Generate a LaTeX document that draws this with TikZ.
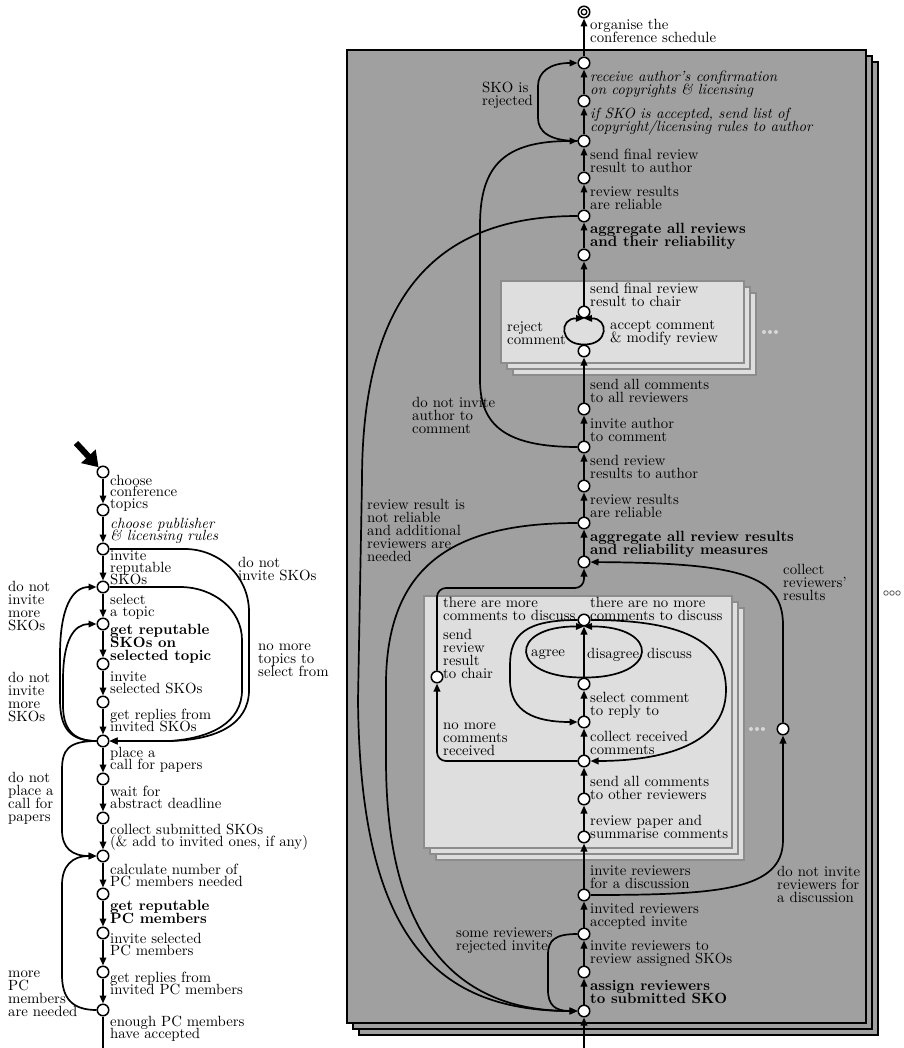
\documentclass[tikz,border=0pt]{standalone}
\usepackage{fontspec}
\setmainfont{lmroman10-regular}[Extension=.otf,BoldFont=lmroman10-bold,ItalicFont=lmroman10-italic,BoldItalicFont=lmroman10-bolditalic]
\usetikzlibrary{arrows.meta}
\definecolor{boxgray}{RGB}{160,160,160}
\definecolor{lightfill}{RGB}{222,222,222}
\definecolor{lightborder}{RGB}{140,140,140}
\definecolor{dotgray}{RGB}{215,215,215}
\definecolor{dotdark}{RGB}{90,90,90}
\newcommand{\rfont}{\fontsize{14.8}{13}\selectfont\lineskiplimit=-100pt\relax}
\newcommand{\lfont}{\fontsize{14.8}{11.8}\selectfont\lineskiplimit=-100pt\relax}
\begin{document}
\begin{tikzpicture}[x=1pt,y=-1pt,
  state/.style={circle,draw,fill=white,line width=1.5pt,minimum size=11.5pt,inner sep=0pt},
  edge/.style={line width=1.7pt,-{Triangle[length=8pt,width=6.5pt]}},
  plain/.style={line width=1.7pt},
  lbl/.style={anchor=north west,inner sep=0pt,align=left,yshift=11pt,font=\rfont,execute at begin node={\rule{0pt}{11pt}}},
  rl/.style={lbl,yshift=-2pt},
  lbt/.style={lbl,font=\lfont},
  lbtb/.style={lbl,font=\rfont\bfseries},
  lbti/.style={lbl,font=\lfont\itshape},
  rlb/.style={rl,font=\rfont\bfseries},
  rli/.style={rl,font=\rfont\itshape},
  bigbox/.style={draw=black,fill=boxgray,line width=1.3pt},
  litbox/.style={draw=lightborder,fill=lightfill,line width=1.8pt},
  lightdot/.style={circle,fill=dotgray,inner sep=0pt,minimum size=4pt},
  darkdot/.style={circle,draw=dotdark,fill=white,line width=0.8pt,inner sep=0pt,minimum size=4.5pt},
]
\useasboundingbox (0,0) rectangle (903,1048);

% ---------- boxes ----------
\draw[bigbox] (359,62) rectangle (878,1035);
\draw[bigbox] (353,56) rectangle (872,1029);
\draw[bigbox] (347,50) rectangle (866,1023);

\draw[litbox] (513,293) rectangle (756,375);
\draw[litbox] (507,287) rectangle (750,369);
\draw[litbox] (501,281) rectangle (744,363);

\draw[litbox] (436,608) rectangle (744,860);
\draw[litbox] (430,602) rectangle (738,854);
\draw[litbox] (424,596) rectangle (732,848);

% dots
\node[lightdot] (d1) at (764,332) {};
\node[lightdot] (d2) at (770,332) {};
\node[lightdot] (d3) at (776,332) {};
\node[lightdot] (d4) at (751,729) {};
\node[lightdot] (d5) at (757,729) {};
\node[lightdot] (d6) at (763,729) {};
\node[darkdot] (d7) at (886,593) {};
\node[darkdot] (d8) at (892,593) {};
\node[darkdot] (d9) at (898,593) {};

% ---------- left column nodes ----------
\foreach \n/\y in {n1/472,n2/510,n3/549,n4/587,n5/624,n6/664,n7/702,n8/741,n9/779,n10/818,n11/856,n12/894,n13/933,n14/972,n15/1010}
  \node[state] (\n) at (103,\y) {};
\coordinate (st) at (76,443);
\coordinate (lb) at (103,1048);

% ---------- right column nodes ----------
\node[state] (fin) at (584,12) {};
\draw[line width=1.3pt] (fin.center) circle (2.8);
\foreach \n/\y in {r1/63,r2/101,r3/141,r4/178,r5/216,r6/255,r7/312,r8/351,r9/409,r10/447,r11/486,r12/523,r13/562,r14/620,r15/684,r16/722,r17/761,r18/799,r19/837,r20/895,r21/934,r22/972,r23/1011}
  \node[state] (\n) at (584,\y) {};
\node[state] (s1) at (437,677) {};
\node[state] (q) at (783,729) {};
\coordinate (rb) at (584,1048);

% ---------- left column edges ----------
\draw[line width=6pt,-{Triangle[length=15pt,width=19pt]}] (st) -- (n1);
\foreach \a/\b in {n1/n2,n2/n3,n3/n4,n4/n5,n5/n6,n6/n7,n7/n8,n8/n9,n9/n10,n10/n11,n11/n12,n12/n13,n13/n14,n14/n15}
  \draw[edge] (\a) -- (\b);
\draw[plain] (n15) -- (lb);
% do not invite SKOs
\draw[edge] (n3) -- (185,549) .. controls (218,549) and (249,575) .. (249,612) -- (249,690) .. controls (249,725) and (215,740) .. (170,741) -- (n8);
% no more topics to select from
\draw[edge] (n4) -- (180,587) .. controls (214,587) and (242,610) .. (242,640) -- (242,690) .. controls (242,722) and (212,738) .. (170,741) -- (n8);
% do not invite more SKOs (to n4)
\draw[edge] (n8) .. controls (70,741) and (60,728) .. (60,700) -- (60,655) .. controls (60,608) and (72,587) .. (n4);
% do not invite more SKOs (to n5)
\draw[edge] (n8) .. controls (72,741) and (63,728) .. (63,705) -- (63,680) .. controls (63,640) and (74,624) .. (n5);
% do not place a call for papers
\draw[edge] (n8) .. controls (68,741) and (62,750) .. (62,770) -- (62,830) .. controls (62,848) and (72,856) .. (n11);
% more PC members are needed
\draw[edge] (n15) .. controls (72,1010) and (62,998) .. (62,975) -- (62,885) .. controls (62,866) and (72,856) .. (n11);

% ---------- right column edges ----------
\foreach \a/\b in {r23/r22,r22/r21,r21/r20,r20/r19,r19/r18,r18/r17,r17/r16,r16/r15,r15/r14,r13/r12,r12/r11,r11/r10,r10/r9,r9/r8,r7/r6,r6/r5,r5/r4,r4/r3,r3/r2,r2/r1,r1/fin}
  \draw[edge] (\a) -- (\b);
\draw[edge] (rb) -- (r23);
% SKO is rejected
\draw[edge] (r3) .. controls (550,141) and (538,132) .. (538,118) -- (538,86) .. controls (538,72) and (550,63) .. (r1);
% do not invite author to comment
\draw[edge] (r10) .. controls (505,447) and (480,425) .. (480,380) -- (480,225) .. controls (480,165) and (505,141) .. (r3);
% from r5 to r23
\draw[edge] (r5) .. controls (450,216) and (362,280) .. (362,480) -- (358,700) .. controls (360,930) and (430,1011) .. (r23);
% review result is not reliable
\draw[edge] (r12) .. controls (460,523) and (388,560) .. (386,680) -- (386,760) .. controls (386,930) and (450,1011) .. (r23);
% reject / accept comment
\draw[edge] (r8.north) .. controls (559,345) and (559,318) .. (r7.south);
\draw[edge] (r8.north) .. controls (609,345) and (609,318) .. (r7.south);
% send review result to chair
\draw[edge,rounded corners=9pt] (s1) -- (437,588) -- (584,588) -- (r13);
% no more comments received
\draw[edge,rounded corners=9pt] (r17) -- (437,761) -- (s1);
% agree / discuss lobes
\draw[edge] (r15.north) .. controls (508,678) and (508,626) .. (r14.south);
\draw[edge] (r15.north) .. controls (660,678) and (660,626) .. (r14.south);
% there are more comments to discuss
\draw[edge] (r14) .. controls (525,620) and (510,635) .. (510,665) -- (510,680) .. controls (510,712) and (535,722) .. (r16);
% there are no more comments to discuss
\draw[edge] (r14) .. controls (680,620) and (726,640) .. (726,690) .. controls (726,750) and (650,761) .. (r17);
% do not invite reviewers for a discussion
\draw[edge] (r20) .. controls (720,895) and (783,890) .. (783,840) -- (q);
% collect reviewers' results
\draw[edge] (q) -- (783,625) .. controls (783,575) and (740,563) .. (r13);
% some reviewers rejected invite
\draw[edge] (r21) .. controls (555,934) and (548,940) .. (548,955) -- (548,990) .. controls (548,1005) and (555,1011) .. (r23);

% ---------- left column labels ----------
\node[lbt] (t1) at (110,485.7) {choose\\conference\\topics};
\node[lbti] (t2) at (110,529) {choose publisher\\\& licensing rules};
\node[lbt] (t3) at (110,561.7) {invite\\reputable\\SKOs};
\node[lbt] (t4) at (110,605) {select\\a topic};
\node[lbtb] (t5) at (110,635) {get reputable\\SKOs on\\selected topic};
\node[lbt] (t6) at (110,683) {invite\\selected SKOs};
\node[lbt] (t7) at (110,720) {get replies from\\invited SKOs};
\node[lbt] (t8) at (110,758) {place a\\call for papers};
\node[lbt] (t9) at (110,797) {wait for\\abstract deadline};
\node[lbt] (t10) at (110,835) {collect submitted SKOs\\(\& add to invited ones, if any)};
\node[lbt] (t11) at (110,875) {calculate number of\\PC members needed};
\node[lbtb] (t12) at (110,911.5) {get reputable\\PC members};
\node[lbt] (t13) at (110,944) {invite selected\\PC members};
\node[lbt] (t14) at (110,982.7) {get replies from\\invited PC members};
\node[lbt] (t15) at (110,1026.7) {enough PC members\\have accepted};
\node[lbl] (t16) at (238,568.3) {do not\\invite SKOs};
\node[lbl] (t17) at (258,655) {no more\\topics to\\select from};
\node[lbl] (t18) at (8,591.7) {do not\\invite\\more\\SKOs};
\node[lbl] (t19) at (8,682.7) {do not\\invite\\more\\SKOs};
\node[lbl] (t20) at (8,783.3) {do not\\place a\\call for\\papers};
\node[lbl] (t21) at (8,981.7) {more\\PC\\members\\are needed};

% ---------- right column labels ----------
\node[rl] (u1) at (590,28.3) {organise the\\conference schedule};
\node[rli] (u2) at (590,80) {receive author's confirmation\\on copyrights \& licensing};
\node[rli] (u3) at (590,116.7) {if SKO is accepted, send list of\\copyright/licensing rules to author};
\node[rl] (u4) at (590,157.7) {send final review\\result to author};
\node[rl] (u5) at (590,195) {review results\\are reliable};
\node[rlb] (u6) at (590,231.7) {aggregate all reviews\\and their reliability};
\node[rl] (u7) at (590,291.7) {send final review\\result to chair};
\node[rl] (u8) at (507,331) {reject\\comment};
\node[rl] (u9) at (610,329) {accept comment\\\& modify review};
\node[rl] (u10) at (590,387.7) {send all comments\\to all reviewers};
\node[lbl] (u11) at (412,407.7) {do not invite\\author to\\comment};
\node[rl] (u12) at (590,426.7) {invite author\\to comment};
\node[rl] (u13) at (590,464.3) {send review\\results to author};
\node[rl] (u14) at (590,503.3) {review results\\are reliable};
\node[rl] (u15) at (367,508.3) {review result is\\not reliable\\and additional\\reviewers are\\needed};
\node[rlb] (u16) at (590,540) {aggregate all review results\\and reliability measures};
\node[rl] (u17) at (783,573.3) {collect\\reviewers'\\results};
\node[rl] (u18) at (443,606) {there are more\\comments to discuss};
\node[rl] (u19) at (590,606) {there are no more\\comments to discuss};
\node[rl] (u20) at (443,638.3) {send\\review\\result\\to chair};
\node[rl] (u21) at (531,654) {agree};
\node[rl] (u22) at (587,656.7) {disagree};
\node[rl] (u23) at (647,656.7) {discuss};
\node[rl] (u24) at (590,700.7) {select comment\\to reply to};
\node[rl] (u25) at (443,731.7) {no more\\comments\\received};
\node[rl] (u26) at (590,740) {collect received\\comments};
\node[rl] (u27) at (590,785) {send all comments\\to other reviewers};
\node[rl] (u28) at (590,824) {review paper and\\summarise comments};
\node[rl] (u29) at (590,875) {invite reviewers\\for a discussion};
\node[rl] (u30) at (777,875) {do not invite\\reviewers for\\a discussion};
\node[rl] (u31) at (590,911.7) {invited reviewers\\accepted invite};
\node[rl] (u32) at (456,936.7) {some reviewers\\rejected invite};
\node[rl] (u33) at (590,950) {invite reviewers to\\review assigned SKOs};
\node[rlb] (u34) at (590,989) {assign reviewers\\to submitted SKO};
\node[lbl] (u35) at (482,93.3) {SKO is\\rejected};
\end{tikzpicture}
\end{document}
